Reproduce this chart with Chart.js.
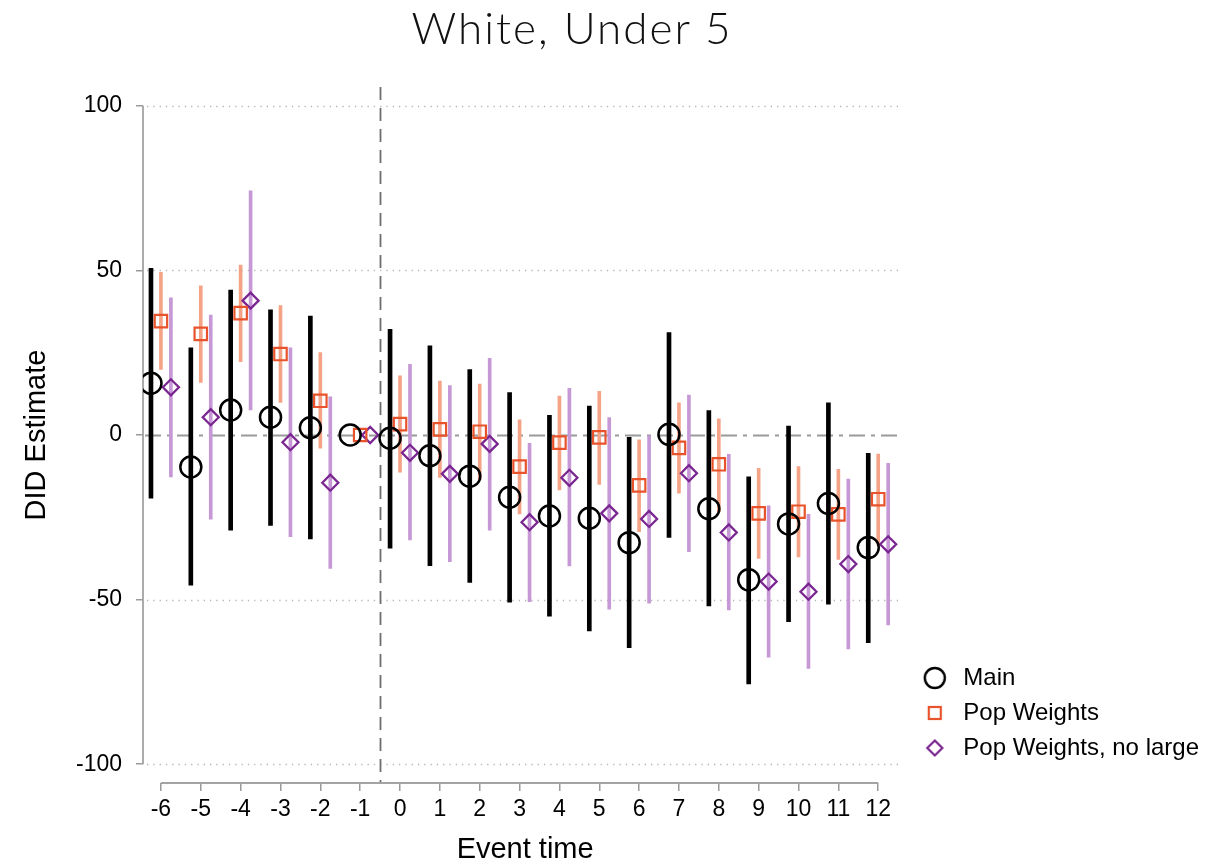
<!DOCTYPE html>
<html>
<head>
<meta charset="utf-8">
<title>White, Under 5</title>
<script src="https://cdn.jsdelivr.net/npm/chart.js@4.4.1/dist/chart.umd.min.js"></script>
<style>
  html, body { margin: 0; padding: 0; background: #fff; }
  #wrap { position: relative; width: 1225px; height: 864px; }
  #chart { position: absolute; left: 0; top: 0; }
  #title {
    position: absolute; left: 0; top: 1px; width: 1144px;
    text-align: center; color: #111; letter-spacing: 2px;
    font-family: Lato, "Open Sans", sans-serif; font-weight: 300; font-size: 44px;
  }
</style>
</head>
<body>
<div id="wrap">
  <canvas id="chart" width="1225" height="864"></canvas>
  <div id="title">White, Under 5</div>
</div>
<script>
// Event-study estimates, one entry per event time
const eventTimes = [-6, -5, -4, -3, -2, -1, 0, 1, 2, 3, 4, 5, 6, 7, 8, 9, 10, 11, 12];

const mainEst = [15.7, -9.7, 7.6, 5.4, 2.2, 0, -1.0, -6.3, -12.5, -18.9, -24.6, -25.3, -32.7, 0.2, -22.4, -44.0, -27.0, -20.8, -34.2];
const mainLo  = [-19.2, -45.6, -28.9, -27.5, -31.6, null, -34.4, -39.7, -44.8, -50.8, -55.0, -59.5, -64.6, -31.1, -51.9, -75.6, -56.7, -51.4, -63.1];
const mainHi  = [50.6, 26.5, 44.0, 38.0, 36.1, null, 32.1, 27.1, 19.9, 12.9, 6.0, 8.8, -0.7, 31.1, 7.4, -12.7, 2.7, 9.8, -5.6];

const popEst = [34.6, 30.7, 37.0, 24.6, 10.4, 0, 3.3, 1.7, 1.0, -9.6, -2.3, -0.7, -15.3, -3.9, -8.9, -23.8, -23.3, -24.1, -19.5];
const popLo  = [19.9, 16.0, 22.3, 9.9, -4.0, null, -11.3, -12.9, -13.5, -24.0, -16.7, -15.0, -29.4, -17.7, -23.3, -37.5, -37.0, -37.8, -33.4];
const popHi  = [49.4, 45.3, 51.6, 39.3, 25.0, null, 18.0, 16.4, 15.5, 4.6, 11.8, 13.3, -1.5, 9.8, 4.9, -10.1, -9.6, -10.4, -5.8];

const noLargeEst = [14.5, 5.4, 40.8, -2.2, -14.5, 0, -5.4, -11.8, -2.7, -26.5, -13.0, -23.8, -25.5, -11.6, -29.6, -44.5, -47.6, -39.2, -33.2];
const noLargeLo  = [-12.7, -25.6, 7.6, -30.9, -40.5, null, -31.9, -38.5, -28.9, -50.6, -39.8, -52.9, -51.1, -35.4, -53.1, -67.5, -70.9, -65.0, -57.7];
const noLargeHi  = [41.7, 36.4, 74.2, 26.5, 11.6, null, 21.5, 15.0, 23.3, -2.5, 14.2, 5.3, 0.0, 12.1, -5.9, -21.5, -24.1, -13.4, -8.6];

const yTicks = [-100, -50, 0, 50, 100];
const seriesNames = ['Main', 'Pop Weights', 'Pop Weights, no large'];

// horizontal nudge so the three estimates at one event time sit side by side
const SHIFT = 0.25;

const BLACK = '#000000';
const ORANGE = '#e8532b';
const ORANGE_CI = '#f5a386';
const PURPLE = '#7a2690';
const PURPLE_CI = '#c698d6';

Chart.defaults.font.family = '"Liberation Sans", Helvetica, Arial, sans-serif';
Chart.defaults.color = '#000';

function points(est, shift) {
    return eventTimes.map((t, i) => ({ x: t + shift, y: est[i] }));
}

function ranges(lo, hi, shift) {
    return eventTimes
        .map((t, i) => ({ x: t + shift, y: [lo[i], hi[i]] }))
        .filter(d => d.y[0] !== null && d.y[1] !== null);
}

// small canvases used as legend markers
function legendIcon(draw) {
    const c = document.createElement('canvas');
    c.width = 28;
    c.height = 28;
    draw(c.getContext('2d'));
    return c;
}

const legendIcons = [
    legendIcon(g => {
        g.beginPath();
        g.arc(14, 14, 10, 0, Math.PI * 2);
        g.lineWidth = 2.4;
        g.strokeStyle = BLACK;
        g.stroke();
    }),
    legendIcon(g => {
        g.lineWidth = 2.2;
        g.strokeStyle = ORANGE;
        g.strokeRect(8, 8, 12, 12);
    }),
    legendIcon(g => {
        g.beginPath();
        g.moveTo(14, 6.5);
        g.lineTo(21.5, 14);
        g.lineTo(14, 21.5);
        g.lineTo(6.5, 14);
        g.closePath();
        g.lineWidth = 2.2;
        g.strokeStyle = PURPLE;
        g.stroke();
    })
];

// reference lines, dotted grid and the short axis lines
const guideLines = {
    id: 'guideLines',
    afterLayout(chart) {
        // lift the legend block a little above the bottom of the plot
        chart.legend.top -= 12;
        chart.legend.bottom -= 12;
    },
    beforeDatasetsDraw(chart) {
        const { ctx, chartArea } = chart;
        const x = chart.scales.x;
        const y = chart.scales.y;
        const right = x.getPixelForValue(12.5);

        ctx.save();

        ctx.lineWidth = 1.3;
        ctx.strokeStyle = '#b5b5b5';
        ctx.setLineDash([1.3, 5]);
        [100, 50, -50, -100].forEach(v => {
            const py = Math.round(y.getPixelForValue(v)) + 0.5;
            ctx.beginPath();
            ctx.moveTo(chartArea.left + 4, py);
            ctx.lineTo(right, py);
            ctx.stroke();
        });

        // zero line
        const y0 = Math.round(y.getPixelForValue(0)) + 0.5;
        ctx.lineWidth = 1.8;
        ctx.strokeStyle = '#9a9a9a';
        ctx.setLineDash([16, 6, 4, 6]);
        ctx.beginPath();
        ctx.moveTo(chartArea.left + 2, y0);
        ctx.lineTo(right, y0);
        ctx.stroke();

        // treatment line between -1 and 0
        const xv = Math.round(x.getPixelForValue(-0.5)) + 0.5;
        ctx.strokeStyle = '#6e6e6e';
        ctx.setLineDash([13, 8]);
        ctx.beginPath();
        ctx.moveTo(xv, chartArea.top);
        ctx.lineTo(xv, chartArea.bottom);
        ctx.stroke();

        // axis lines only span the labelled range
        ctx.setLineDash([]);
        ctx.strokeStyle = '#a3a3a3';
        ctx.lineWidth = 1.8;
        ctx.beginPath();
        ctx.moveTo(chartArea.left, y.getPixelForValue(100));
        ctx.lineTo(chartArea.left, y.getPixelForValue(-100));
        ctx.moveTo(x.getPixelForValue(-6), chartArea.bottom);
        ctx.lineTo(x.getPixelForValue(12), chartArea.bottom);
        ctx.stroke();

        ctx.restore();
    }
};

new Chart(document.getElementById('chart'), {
    type: 'bar',
    data: {
        datasets: [
            {
                type: 'scatter', label: seriesNames[0], data: points(mainEst, -SHIFT),
                pointStyle: 'circle', pointRadius: 10.5, borderWidth: 2.5,
                borderColor: BLACK, backgroundColor: 'rgba(0,0,0,0)', order: 1
            },
            {
                type: 'scatter', label: seriesNames[1], data: points(popEst, 0),
                pointStyle: 'rect', pointRadius: 8.8, borderWidth: 2.2,
                borderColor: ORANGE, backgroundColor: 'rgba(0,0,0,0)', order: 2
            },
            {
                type: 'scatter', label: seriesNames[2], data: points(noLargeEst, SHIFT),
                pointStyle: 'rectRot', pointRadius: 8, borderWidth: 2.3,
                borderColor: PURPLE, backgroundColor: 'rgba(0,0,0,0)', order: 3
            },
            {
                label: 'Main CI', data: ranges(mainLo, mainHi, -SHIFT),
                backgroundColor: BLACK, barThickness: 4, grouped: false, order: 6
            },
            {
                label: 'Pop Weights CI', data: ranges(popLo, popHi, 0),
                backgroundColor: ORANGE_CI, barThickness: 3, grouped: false, order: 5
            },
            {
                label: 'No large CI', data: ranges(noLargeLo, noLargeHi, SHIFT),
                backgroundColor: PURPLE_CI, barThickness: 3, grouped: false, order: 4
            }
        ]
    },
    options: {
        responsive: false,
        animation: false,
        events: [],
        layout: { padding: { top: 87, right: 16, bottom: 0, left: 0 } },
        scales: {
            x: {
                type: 'linear',
                min: -6.45,
                max: 12.73,
                offset: false,
                afterBuildTicks: s => { s.ticks = eventTimes.map(v => ({ value: v })); },
                afterFit: s => { s.height = 81; },
                border: { display: false },
                grid: { drawOnChartArea: false, offset: false, tickLength: 8, color: '#9a9a9a', lineWidth: 1.5 },
                ticks: { autoSkip: false, maxRotation: 0, padding: 5, color: '#000', font: { size: 23 } },
                title: {
                    display: true, text: 'Event time', color: '#000',
                    font: { size: 29, lineHeight: 1 }, padding: { top: 0, bottom: 0 }
                }
            },
            y: {
                min: -105.7,
                max: 105.7,
                afterBuildTicks: s => { s.ticks = yTicks.map(v => ({ value: v })); },
                afterFit: s => { s.width = 143; },
                border: { display: false },
                grid: { drawOnChartArea: false, tickLength: 7, color: '#9a9a9a', lineWidth: 1.5 },
                ticks: { padding: 14, color: '#000', font: { size: 23 } },
                title: {
                    display: true, text: 'DID Estimate', color: '#000',
                    font: { size: 29, lineHeight: 1 }, padding: { top: 22, bottom: 0 }
                }
            }
        },
        plugins: {
            title: { display: false },
            tooltip: { enabled: false },
            legend: {
                position: 'right',
                align: 'end',
                fullSize: false,
                labels: {
                    usePointStyle: true,
                    pointStyleWidth: 33,
                    padding: 11,
                    color: '#000',
                    font: { size: 24 },
                    generateLabels: () => seriesNames.map((name, i) => ({
                        text: name,
                        pointStyle: legendIcons[i],
                        fillStyle: 'rgba(0,0,0,0)',
                        strokeStyle: 'rgba(0,0,0,0)',
                        lineWidth: 0,
                        hidden: false,
                        datasetIndex: i
                    }))
                }
            }
        }
    },
    plugins: [guideLines]
});
</script>
</body>
</html>
